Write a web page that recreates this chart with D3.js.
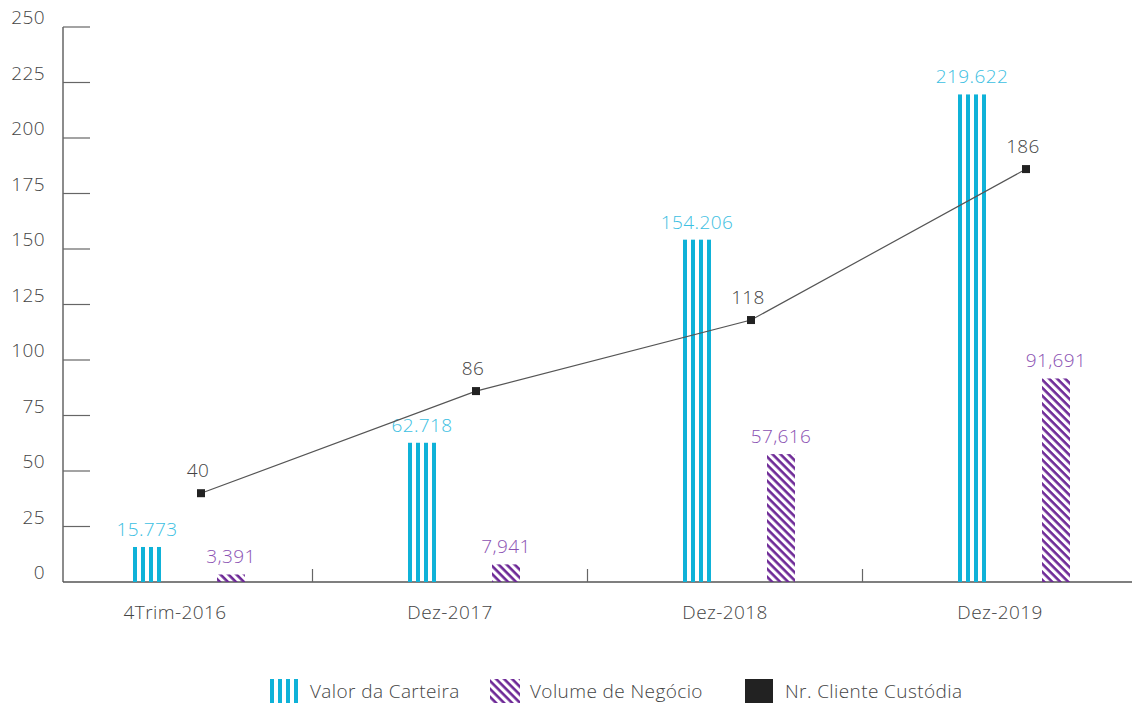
<!DOCTYPE html>
<html>
<head>
<meta charset="utf-8">
<script src="https://cdn.jsdelivr.net/npm/d3@7"></script>
<style>
  body { margin: 0; background: #fff; }
  text { font-family: "Open Sans", Lato, sans-serif; font-weight: 300; letter-spacing: 0.4px; }
</style>
</head>
<body>
<svg id="chart" width="1132" height="704"></svg>
<script>
(function(){
    let w = 1132, h = 704;

    // data
    const categories = ["4Trim-2016", "Dez-2017", "Dez-2018", "Dez-2019"];
    const valorCarteira = [15.773, 62.718, 154.206, 219.622];
    const valorLabels = ["15.773", "62.718", "154.206", "219.622"];
    const volumeNegocio = [3.391, 7.941, 57.616, 91.691];
    const volumeLabels = ["3,391", "7,941", "57,616", "91,691"];
    const nrClientes = [40, 86, 118, 186];
    const yTicks = [0, 25, 50, 75, 100, 125, 150, 175, 200, 225, 250];
    const legendNames = ["Valor da Carteira", "Volume de Negócio", "Nr. Cliente Custódia"];

    const cyan = "#0fb2d8", cyanText = "#3cc0e2";
    const purple = "#6e2a97", purpleText = "#8b52b3";
    const grey = "#444";
    const fs = 19;

    let svg = d3.select("#chart");

    let y = d3.scaleLinear().domain([0, 250]).range([582, 27]);
    let x = d3.scaleBand().domain(categories).range([37.5, 1137.5]);

    let defs = svg.append("defs");

    // vertical stripes: one pattern per bar so stripes start at the bar edge
    function stripePattern(id, x0) {
        let p = defs.append("pattern")
            .attr("id", id)
            .attr("patternUnits", "userSpaceOnUse")
            .attr("x", x0).attr("y", 0)
            .attr("width", 8).attr("height", 8);
        p.append("rect").attr("x", 0).attr("y", 0).attr("width", 4).attr("height", 8).attr("fill", cyan);
    }

    // diagonal hatch, top-left to bottom-right
    let hatch = defs.append("pattern")
        .attr("id", "hatch")
        .attr("patternUnits", "userSpaceOnUse")
        .attr("width", 8).attr("height", 5.66)
        .attr("patternTransform", "rotate(45)");
    hatch.append("rect").attr("x", 0).attr("y", 0).attr("width", 8).attr("height", 2.6).attr("fill", purple);

    // y axis
    let yAxis = svg.append("g");
    yAxis.append("line")
        .attr("x1", 63).attr("x2", 63)
        .attr("y1", y(250)).attr("y2", y(0))
        .attr("stroke", "#666").attr("stroke-width", 1.5);
    yAxis.selectAll(".ytick")
        .data(yTicks.filter(d => d > 0))
        .join("line")
        .attr("x1", 63).attr("x2", 90)
        .attr("y1", d => y(d)).attr("y2", d => y(d))
        .attr("stroke", "#666").attr("stroke-width", 1.2);
    yAxis.selectAll(".ylab")
        .data(yTicks)
        .join("text")
        .attr("x", 45).attr("y", d => y(d) - 3)
        .attr("text-anchor", "end")
        .attr("font-size", fs)
        .attr("fill", grey)
        .text(d => d);

    // x axis
    svg.append("line")
        .attr("x1", 63).attr("x2", w)
        .attr("y1", y(0)).attr("y2", y(0))
        .attr("stroke", "#555").attr("stroke-width", 1.5);
    svg.selectAll(".xdiv")
        .data(categories.slice(1))
        .join("line")
        .attr("x1", d => x(d)).attr("x2", d => x(d))
        .attr("y1", y(0) - 13).attr("y2", y(0))
        .attr("stroke", "#666").attr("stroke-width", 1.2);
    svg.selectAll(".xlab")
        .data(categories)
        .join("text")
        .attr("x", d => x(d) + x.bandwidth() / 2)
        .attr("y", 619)
        .attr("text-anchor", "middle")
        .attr("font-size", fs)
        .attr("fill", grey)
        .text(d => d);

    const barW = 28;
    const cx = c => x(c) + x.bandwidth() / 2;

    // cyan bars
    categories.forEach((c, i) => {
        let bx = cx(c) - 42;
        stripePattern("vs" + i, bx);
        svg.append("rect")
            .attr("x", bx).attr("width", barW)
            .attr("y", y(valorCarteira[i]))
            .attr("height", y(0) - y(valorCarteira[i]))
            .attr("fill", "url(#vs" + i + ")");
        svg.append("text")
            .attr("x", bx + barW / 2)
            .attr("y", y(valorCarteira[i]) - 11)
            .attr("text-anchor", "middle")
            .attr("font-size", fs)
            .attr("fill", cyanText)
            .text(valorLabels[i]);
    });

    // purple bars
    categories.forEach((c, i) => {
        let bx = cx(c) + 42;
        svg.append("rect")
            .attr("x", bx).attr("width", barW)
            .attr("y", y(volumeNegocio[i]))
            .attr("height", y(0) - y(volumeNegocio[i]))
            .attr("fill", "url(#hatch)");
        svg.append("text")
            .attr("x", bx + barW / 2)
            .attr("y", y(volumeNegocio[i]) - 11)
            .attr("text-anchor", "middle")
            .attr("font-size", fs)
            .attr("fill", purpleText)
            .text(volumeLabels[i]);
    });

    // line
    let line = d3.line()
        .x((d, i) => cx(categories[i]) + 26)
        .y(d => y(d));
    svg.append("path")
        .datum(nrClientes)
        .attr("d", line)
        .attr("fill", "none")
        .attr("stroke", "#555")
        .attr("stroke-width", 1.2);
    svg.selectAll(".pt")
        .data(nrClientes)
        .join("rect")
        .attr("x", (d, i) => cx(categories[i]) + 26 - 4)
        .attr("y", d => y(d) - 4)
        .attr("width", 8).attr("height", 8)
        .attr("fill", "#222");
    svg.selectAll(".ptlab")
        .data(nrClientes)
        .join("text")
        .attr("x", (d, i) => cx(categories[i]) + 26 - 3)
        .attr("y", d => y(d) - 16)
        .attr("text-anchor", "middle")
        .attr("font-size", fs)
        .attr("fill", grey)
        .text(d => d);

    // legend
    let lg = svg.append("g");
    let ly = 679;
    let l0 = lg.append("g").attr("transform", "translate(270," + ly + ")");
    [0, 8, 16, 24].forEach(dx => {
        l0.append("rect").attr("x", dx).attr("y", 0).attr("width", 4).attr("height", 24).attr("fill", cyan);
    });
    l0.append("text").attr("x", 40).attr("y", 19).attr("font-size", fs).attr("fill", grey).text(legendNames[0]);

    let l1 = lg.append("g").attr("transform", "translate(490," + ly + ")");
    l1.append("rect").attr("width", 30).attr("height", 24).attr("fill", "url(#hatch)");
    l1.append("text").attr("x", 40).attr("y", 19).attr("font-size", fs).attr("fill", grey).text(legendNames[1]);

    let l2 = lg.append("g").attr("transform", "translate(745," + ly + ")");
    l2.append("rect").attr("width", 28).attr("height", 24).attr("fill", "#222");
    l2.append("text").attr("x", 40).attr("y", 19).attr("font-size", fs).attr("fill", grey).text(legendNames[2]);
})();
</script>
</body>
</html>
